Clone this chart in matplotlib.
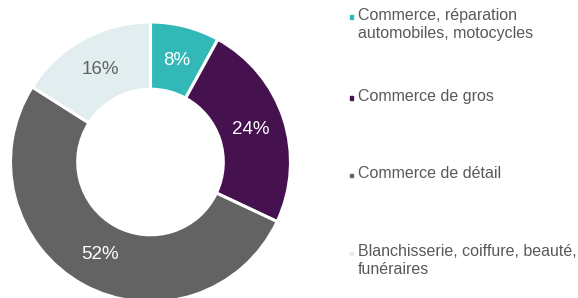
import matplotlib
matplotlib.use("Agg")
import matplotlib.pyplot as plt

plt.rcParams['font.family'] = ['Liberation Sans', 'DejaVu Sans']

# data
categories = ["Commerce, réparation\nautomobiles, motocycles",
              "Commerce de gros",
              "Commerce de détail",
              "Blanchisserie, coiffure, beauté,\nfunéraires"]
shares = [8, 24, 52, 16]
colors = ["#33b8b8", "#46114f", "#636363", "#e1edef"]
label_colors = ["white", "white", "white", "#636363"]

W, H = 578, 298
fig = plt.figure(figsize=(W / 100, H / 100), dpi=100)

# donut centre at (150.5, 162) px from top-left, outer radius 140 px
cx, cy, r = 150.5, 162, 140
ax = fig.add_axes([(cx - r) / W, (H - cy - r) / H, 2 * r / W, 2 * r / H])
wedges, texts = ax.pie(shares, colors=colors, startangle=90, counterclock=False,
                       radius=1, labels=[f"{v}%" for v in shares], labeldistance=0.75,
                       wedgeprops=dict(width=0.48, edgecolor="white", linewidth=2.2))
for t, c in zip(texts, label_colors):
    t.set_color(c)
    t.set_fontsize(13.5)
    t.set_ha("center")
    t.set_va("center")
for w in wedges:
    w.set_clip_on(False)
ax.set_xlim(-1, 1)
ax.set_ylim(-1, 1)
ax.set_aspect("equal")
ax.axis("off")

# legend, entries placed by hand like the original layout
legend_y = [17, 98, 175, 253]
for name, col, y in zip(categories, colors, legend_y):
    fig.patches.append(plt.Rectangle((350 / W, (H - y - 1.5) / H), 3 / W, 3 / H,
                                     transform=fig.transFigure, color=col, zorder=5))
    fig.text(358 / W, (H - y + 9) / H, name, fontsize=11.5, color="#595959",
             ha="left", va="top", linespacing=1.22)

fig.savefig("out.png", dpi=100)
